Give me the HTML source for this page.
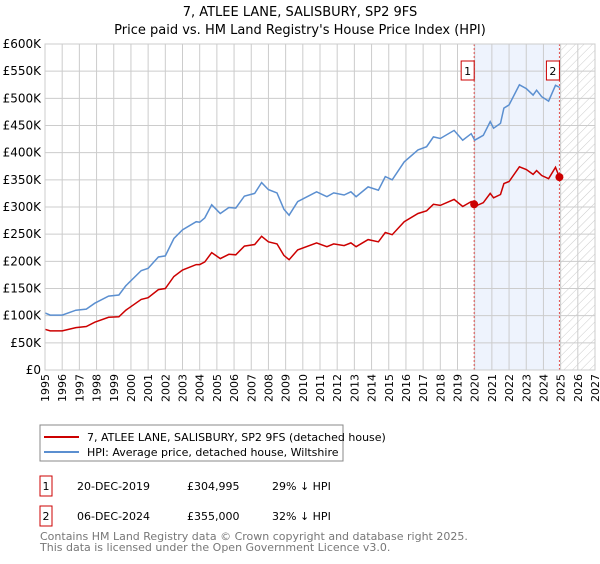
<!DOCTYPE html>
<html><head><meta charset="utf-8"><style>
body{margin:0;background:#fff;font-family:"DejaVu Sans","Liberation Sans",sans-serif;}
svg text{font-family:"DejaVu Sans","Liberation Sans",sans-serif;}
</style></head><body>
<svg id="c" width="600" height="560" xmlns="http://www.w3.org/2000/svg">
<defs><pattern id="hatch" width="6" height="6" patternUnits="userSpaceOnUse" patternTransform="rotate(45)"><line x1="0" y1="0" x2="0" y2="6" stroke="#ccc" stroke-width="1"/></pattern></defs>
<text x="300" y="16" text-anchor="middle" font-size="13">7, ATLEE LANE, SALISBURY, SP2 9FS</text>
<text x="300" y="34" text-anchor="middle" font-size="13">Price paid vs. HM Land Registry's House Price Index (HPI)</text>
<g id="plot"></g>
<g>
<rect x="40" y="425" width="303" height="36" fill="#fff" stroke="#888"/>
<line x1="44" y1="437" x2="79" y2="437" stroke="#cc0000" stroke-width="2"/>
<text x="87" y="441" font-size="11">7, ATLEE LANE, SALISBURY, SP2 9FS (detached house)</text>
<line x1="44" y1="452" x2="79" y2="452" stroke="#5b8fd0" stroke-width="2"/>
<text x="87" y="456" font-size="11">HPI: Average price, detached house, Wiltshire</text>
</g>
<g font-size="11">
<rect x="40" y="476" width="12" height="20" fill="#fff" stroke="#cc0000"/><text x="46" y="490" text-anchor="middle">1</text>
<text x="77" y="490">20-DEC-2019</text><text x="187" y="490">£304,995</text><text x="272" y="490">29% ↓ HPI</text>
<rect x="40" y="506" width="12" height="20" fill="#fff" stroke="#cc0000"/><text x="46" y="520" text-anchor="middle">2</text>
<text x="77" y="520">06-DEC-2024</text><text x="187" y="520">£355,000</text><text x="272" y="520">32% ↓ HPI</text>
</g>
<text x="40" y="540" font-size="11" fill="#777">Contains HM Land Registry data © Crown copyright and database right 2025.</text>
<text x="40" y="551" font-size="11" fill="#777">This data is licensed under the Open Government Licence v3.0.</text>
</svg>
<script>
const hpiYears=[1995.0,1995.3,1996.0,1996.8,1997.4,1997.9,1998.7,1999.3,1999.7,2000.6,2001.0,2001.6,2002.0,2002.5,2003.0,2003.8,2004.0,2004.3,2004.7,2005.2,2005.7,2006.1,2006.6,2007.2,2007.6,2008.0,2008.5,2008.9,2009.2,2009.7,2010.8,2011.4,2011.8,2012.4,2012.8,2013.1,2013.8,2014.4,2014.8,2015.2,2015.9,2016.7,2017.2,2017.6,2018.0,2018.8,2019.3,2019.8,2020.0,2020.5,2020.9,2021.1,2021.5,2021.7,2022.0,2022.6,2023.0,2023.4,2023.6,2023.9,2024.3,2024.7,2024.95];
const hpiValues=[105,101,101,110,112,123,136,138,155,183,187,208,210,242,258,273,272,280,304,288,299,298,320,325,345,332,326,296,285,310,328,319,326,322,328,319,337,331,356,350,383,405,411,429,426,441,423,435,423,432,457,445,454,482,488,525,518,506,515,503,495,524,520];
const priceYears=[1995.0,1995.3,1996.0,1996.8,1997.4,1997.9,1998.7,1999.3,1999.7,2000.6,2001.0,2001.6,2002.0,2002.5,2003.0,2003.8,2004.0,2004.3,2004.7,2005.2,2005.7,2006.1,2006.6,2007.2,2007.6,2008.0,2008.5,2008.9,2009.2,2009.7,2010.8,2011.4,2011.8,2012.4,2012.8,2013.1,2013.8,2014.4,2014.8,2015.2,2015.9,2016.7,2017.2,2017.6,2018.0,2018.8,2019.3,2019.8,2020.0,2020.5,2020.9,2021.1,2021.5,2021.7,2022.0,2022.6,2023.0,2023.4,2023.6,2023.9,2024.3,2024.7,2024.93];
const priceValues=[75,72,72,78,80,88,97,98,110,130,133,148,150,172,184,194,194,199,216,205,213,212,228,231,246,236,232,211,203,221,234,227,232,229,234,227,240,236,253,249,273,288,293,305,303,314,301,310,301,308,325,317,323,343,347,374,369,360,367,358,352,373,355];
const saleYears=[2019.97,2024.93];
const saleValues=[304.995,355];
const saleLabels=["1","2"];
const yTicks=[0,50,100,150,200,250,300,350,400,450,500,550,600];
const yTickLabels=["£0","£50K","£100K","£150K","£200K","£250K","£300K","£350K","£400K","£450K","£500K","£550K","£600K"];
const xTicks=[1995,1996,1997,1998,1999,2000,2001,2002,2003,2004,2005,2006,2007,2008,2009,2010,2011,2012,2013,2014,2015,2016,2017,2018,2019,2020,2021,2022,2023,2024,2025,2026,2027];

const L=45,R=595,T=44,B=370;
const X=y=>L+(y-1995)/(2027-1995)*(R-L);
const Y=v=>B-v/600*(B-T);
const NS="http://www.w3.org/2000/svg";
const g=document.getElementById('plot');
function mk(t,a,p){const e=document.createElementNS(NS,t);for(const k in a)e.setAttribute(k,a[k]);(p||g).appendChild(e);return e;}
let e;
e=mk('rect',{x:X(saleYears[0]),y:T,width:X(saleYears[1])-X(saleYears[0]),height:B-T,fill:'#eef3fd'});


e=mk('rect',{x:X(saleYears[1]),y:T,width:R-X(saleYears[1]),height:B-T,fill:'url(#hatch)'});


xTicks.forEach(t=>{
 e=mk('line',{x1:X(t),x2:X(t),y1:T,y2:B,stroke:'#ccc','stroke-width':1});
 
 
 e=mk('text',{x:0,y:0,'font-size':11,'text-anchor':'end',transform:`translate(${X(t)+4},${B+4}) rotate(-90)`});
 e.textContent=t;
 
 
});
yTicks.forEach((t,i)=>{
 e=mk('line',{x1:L,x2:R,y1:Y(t),y2:Y(t),stroke:'#ccc','stroke-width':1});
 
 
 e=mk('text',{x:L-4,y:Y(t)+4,'font-size':12,'text-anchor':'end'});
 e.textContent=yTickLabels[i];
 
 
});
saleYears.forEach((s,i)=>{
 e=mk('line',{x1:X(s),x2:X(s),y1:T,y2:B,stroke:'#e05050','stroke-width':1,'stroke-dasharray':'2,2'});
 
 
});
function path(xs,vs){return xs.map((x,i)=>(i?'L':'M')+X(x).toFixed(1)+','+Y(vs[i]).toFixed(1)).join('');}
e=mk('path',{d:path(hpiYears,hpiValues),fill:'none',stroke:'#5b8fd0','stroke-width':1.5});


e=mk('path',{d:path(priceYears,priceValues),fill:'none',stroke:'#cc0000','stroke-width':1.5});


saleYears.forEach((s,i)=>{
 e=mk('circle',{cx:X(s),cy:Y(saleValues[i]),r:4,fill:'#cc0000'});
 
 
 const bx=X(s)-7;
 e=mk('rect',{x:bx-6,y:61,width:13,height:19,fill:'#fff',stroke:'#cc0000'});
 
 
 e=mk('text',{x:bx+0.5,y:75,'font-size':11,'text-anchor':'middle'});
 e.textContent=saleLabels[i];
 
 
});
e=mk('rect',{x:L,y:T,width:R-L,height:B-T,fill:'none',stroke:'#ccc'});


</script>
</body></html>
